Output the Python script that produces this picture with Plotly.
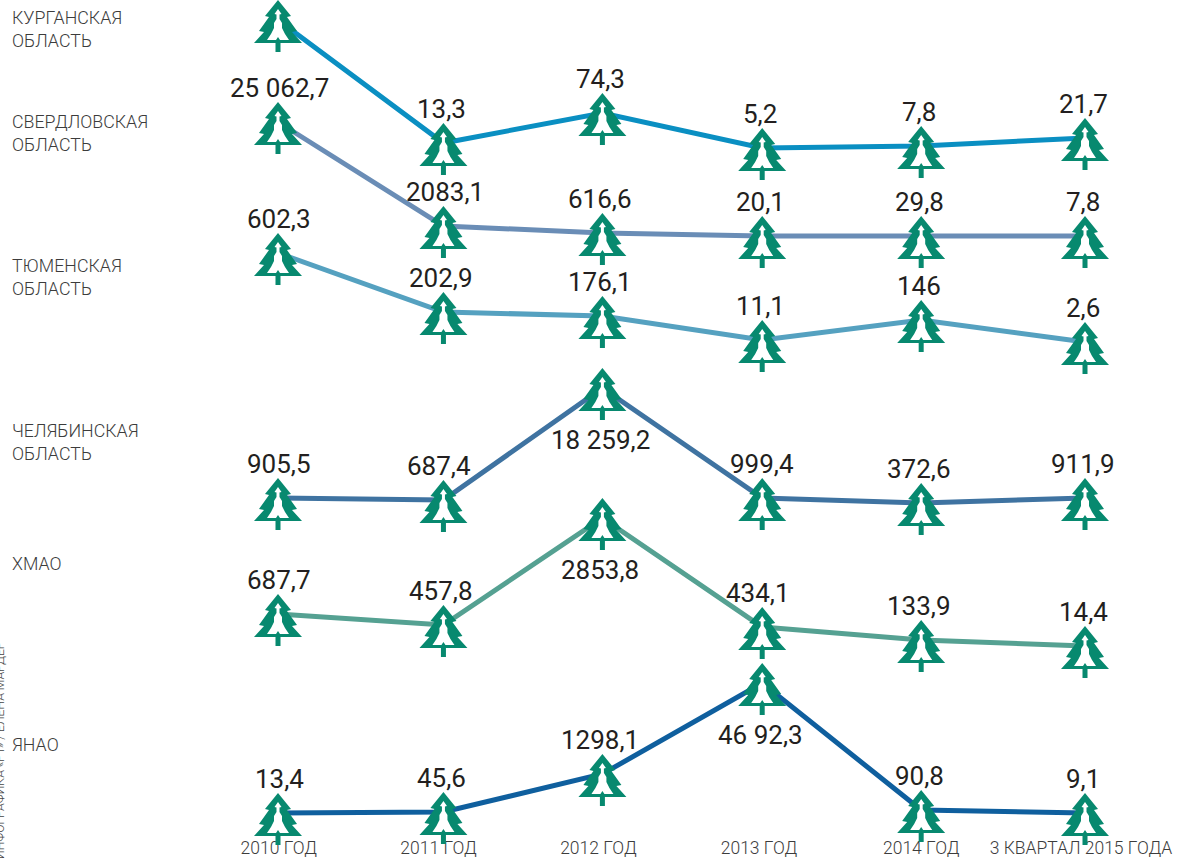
import plotly.graph_objects as go

# --- data ---
periods = ["2010 ГОД", "2011 ГОД", "2012 ГОД", "2013 ГОД", "2014 ГОД", "3 КВАРТАЛ 2015 ГОДА"]
period_x = [0, 1.025, 2.01, 3.0, 3.985, 5]
tick_x = [0.005, 0.995, 1.985, 2.98, 3.985, 4.975]

names = ["КУРГАНСКАЯ<br>ОБЛАСТЬ", "СВЕРДЛОВСКАЯ<br>ОБЛАСТЬ", "ТЮМЕНСКАЯ<br>ОБЛАСТЬ",
         "ЧЕЛЯБИНСКАЯ<br>ОБЛАСТЬ", "ХМАО", "ЯНАО"]
name_levels = [29, 133, 277, 442, 563, 744]

kurgan_labels = [None, "13,3", "74,3", "5,2", "7,8", "21,7"]
sverdlovsk_labels = ["25 062,7", "2083,1", "616,6", "20,1", "29,8", "7,8"]
tyumen_labels = ["602,3", "202,9", "176,1", "11,1", "146", "2,6"]
chelyabinsk_labels = ["905,5", "687,4", "18 259,2", "999,4", "372,6", "911,9"]
khmao_labels = ["687,7", "457,8", "2853,8", "434,1", "133,9", "14,4"]
yanao_labels = ["13,4", "45,6", "1298,1", "46 92,3", "90,8", "9,1"]

# drawn level of every point (the chart's levels are not to a common value scale)
kurgan_levels = [20, 143, 113, 148, 146, 138]
sverdlovsk_levels = [122, 226, 233, 236, 236, 236]
tyumen_levels = [253, 312, 316, 340, 320, 342]
chelyabinsk_levels = [498, 500, 388, 498, 503, 498]
khmao_levels = [614, 625, 518, 627, 640, 646]
yanao_levels = [813, 812, 774, 683, 810, 813]

series = [
    (kurgan_labels, kurgan_levels, "#0a8fc2", []),
    (sverdlovsk_labels, sverdlovsk_levels, "#6a8db6", []),
    (tyumen_labels, tyumen_levels, "#55a1c0", []),
    (chelyabinsk_labels, chelyabinsk_levels, "#3f73a1", [2]),
    (khmao_labels, khmao_levels, "#55a192", [2]),
    (yanao_labels, yanao_levels, "#0f5f9e", [3]),
]
label_nudges = {"2083,1": 4, "999,4": 2, "434,1": -2, "687,4": -2, "372,6": 0}

TREE_GREEN = "#07896f"
TREE_OUTER = ("M0,20 L13,4 L9,3 L19,-11 L14,-12 L24,-23 L2.5,-23 L2.5,-32 L-2.5,-32 L-2.5,-23 "
              "L-24,-23 L-14,-12 L-19,-11 L-9,3 L-13,4 Z")
TREE_INNER = ("M0,11 L3.5,6 L1.5,5.5 L1.5,1 L4,-3 L4,-8 L7,-14 L11,-20 L2,-20 L0,-17 L-2,-20 "
              "L-11,-20 L-7,-14 L-4,-8 L-4,-3 L-1.5,1 L-1.5,5.5 L-3.5,6 Z")

fig = go.Figure()
shapes, annotations = [], []

for labels, levels, color, below in series:
    fig.add_trace(go.Scatter(x=period_x, y=levels, mode="lines",
                             line=dict(color=color, width=5), hoverinfo="skip", showlegend=False))
    for i, (label, level) in enumerate(zip(labels, levels)):
        for path, fill in ((TREE_OUTER, TREE_GREEN), (TREE_INNER, "#ffffff")):
            shapes.append(dict(type="path", xref="x", yref="y", xsizemode="pixel", ysizemode="pixel",
                               xanchor=period_x[i], yanchor=level, path=path, fillcolor=fill,
                               line=dict(width=0), layer="above"))
        if label:
            annotations.append(dict(x=period_x[i], y=level, xref="x", yref="y", text=label,
                                    showarrow=False, xanchor="center", yanchor="middle",
                                    yshift=-52 if i in below else 34,
                                    xshift=(1 if i == 0 else -2) + label_nudges.get(label, 0),
                                    font=dict(family="Roboto", size=26, color="#231f20")))

for name, level in zip(names, name_levels):
    annotations.append(dict(x=10 / 1194, y=level, xref="paper", yref="y",
                            text=name, showarrow=False, xanchor="left", yanchor="middle", align="left",
                            font=dict(family="Roboto", size=17.8, weight=300, color="#3c3c3c")))

annotations.append(dict(x=0, y=1 - 751 / 860, xref="paper", yref="paper",
                        text="ИНФОГРАФИКА «РТ» / ЕЛЕНА МАРДЕР", textangle=-90, showarrow=False,
                        xanchor="center", yanchor="middle",
                        font=dict(family="Roboto", size=12.2, weight=300, color="#444444")))

fig.update_layout(
    width=1194, height=860, margin=dict(l=0, r=0, t=0, b=0), autosize=False,
    paper_bgcolor="#ffffff", plot_bgcolor="#ffffff", showlegend=False,
    shapes=shapes, annotations=annotations,
    xaxis=dict(range=[-278 / 161.4, (1194 - 278) / 161.4], tickvals=tick_x, ticktext=periods,
               ticks="", showgrid=False, zeroline=False, showline=False,
               ticklabelposition="inside", automargin=False,
               tickfont=dict(family="Roboto", size=17.5, weight=300, color="#3c3c3c")),
    yaxis=dict(range=[860, 0], visible=False, showgrid=False, zeroline=False, automargin=False),
)
fig.write_html("out.html", config={"displayModeBar": False},
               post_script="document.body.style.margin='0';document.body.style.overflow='hidden';")
